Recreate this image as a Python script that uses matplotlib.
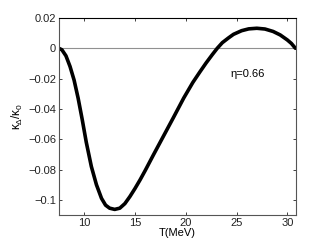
import matplotlib
matplotlib.use('Agg')
import matplotlib.pyplot as plt

plt.rcParams['font.family'] = ['Liberation Sans', 'DejaVu Sans']
plt.rcParams['mathtext.fontset'] = 'custom'
plt.rcParams['mathtext.rm'] = 'Liberation Sans'
plt.rcParams['mathtext.it'] = 'Liberation Sans'

# data
T = [7.5, 7.8, 8.2, 8.6, 9.0, 9.4, 9.8, 10.2, 10.7, 11.2, 11.7, 12.1, 12.5,
     13.0, 13.5, 14.0, 14.5, 15.0, 15.5, 16.0, 16.8, 17.8, 18.8, 19.8, 20.7,
     21.4, 22.0, 22.6, 23.1, 23.6, 24.2, 24.7, 25.5, 26.2, 27.0, 27.8, 28.6,
     29.3, 30.0, 30.4, 30.8]
kappa = [0.0, -0.001, -0.005, -0.012, -0.021, -0.033, -0.047, -0.062, -0.078,
         -0.090, -0.099, -0.1035, -0.1055, -0.1063, -0.1055, -0.1025, -0.0978,
         -0.0925, -0.0868, -0.0807, -0.0705, -0.058, -0.0455, -0.0328, -0.0225,
         -0.0155, -0.0097, -0.0043, 0.0, 0.0037, 0.0068, 0.0092, 0.0116,
         0.0128, 0.0132, 0.0127, 0.0111, 0.0088, 0.0055, 0.0032, 0.0]
xticks = [10, 15, 20, 25, 30]
yticks = [0.02, 0, -0.02, -0.04, -0.06, -0.08, -0.1]
ylabels = ['0.02', '0', '\u22120.02', '\u22120.04', '\u22120.06', '\u22120.08', '\u22120.1']

fig = plt.figure(figsize=(3.27, 2.46), dpi=100)
ax = fig.add_axes([0.180, 0.126, 0.725, 0.801])
ax.axhline(0, color='#909090', lw=0.8)
ax.plot(T, kappa, 'k-', lw=2.6, solid_capstyle='round', solid_joinstyle='round')
ax.set_xlim(7.5, 30.85)
ax.set_ylim(-0.11, 0.02)
ax.set_xticks(xticks)
ax.set_yticks(yticks)
ax.set_yticklabels(ylabels)
ax.tick_params(direction='in', top=True, right=True, length=2.5, width=0.6,
               labelsize=8, pad=2, colors='#222222')
for s in ax.spines.values():
    s.set_color('#555555')
    s.set_linewidth(0.8)
ax.spines['top'].set_color('black')
ax.set_xlabel('T(MeV)', fontsize=8, labelpad=0.5)
ax.set_ylabel(r'$\kappa_\Delta/\kappa_0$', fontsize=8.5, labelpad=2)
ax.text(24.4, -0.0172, '\u03b7=0.66', fontsize=8, va='center', ha='left')

plt.savefig('out.png', dpi=100)
